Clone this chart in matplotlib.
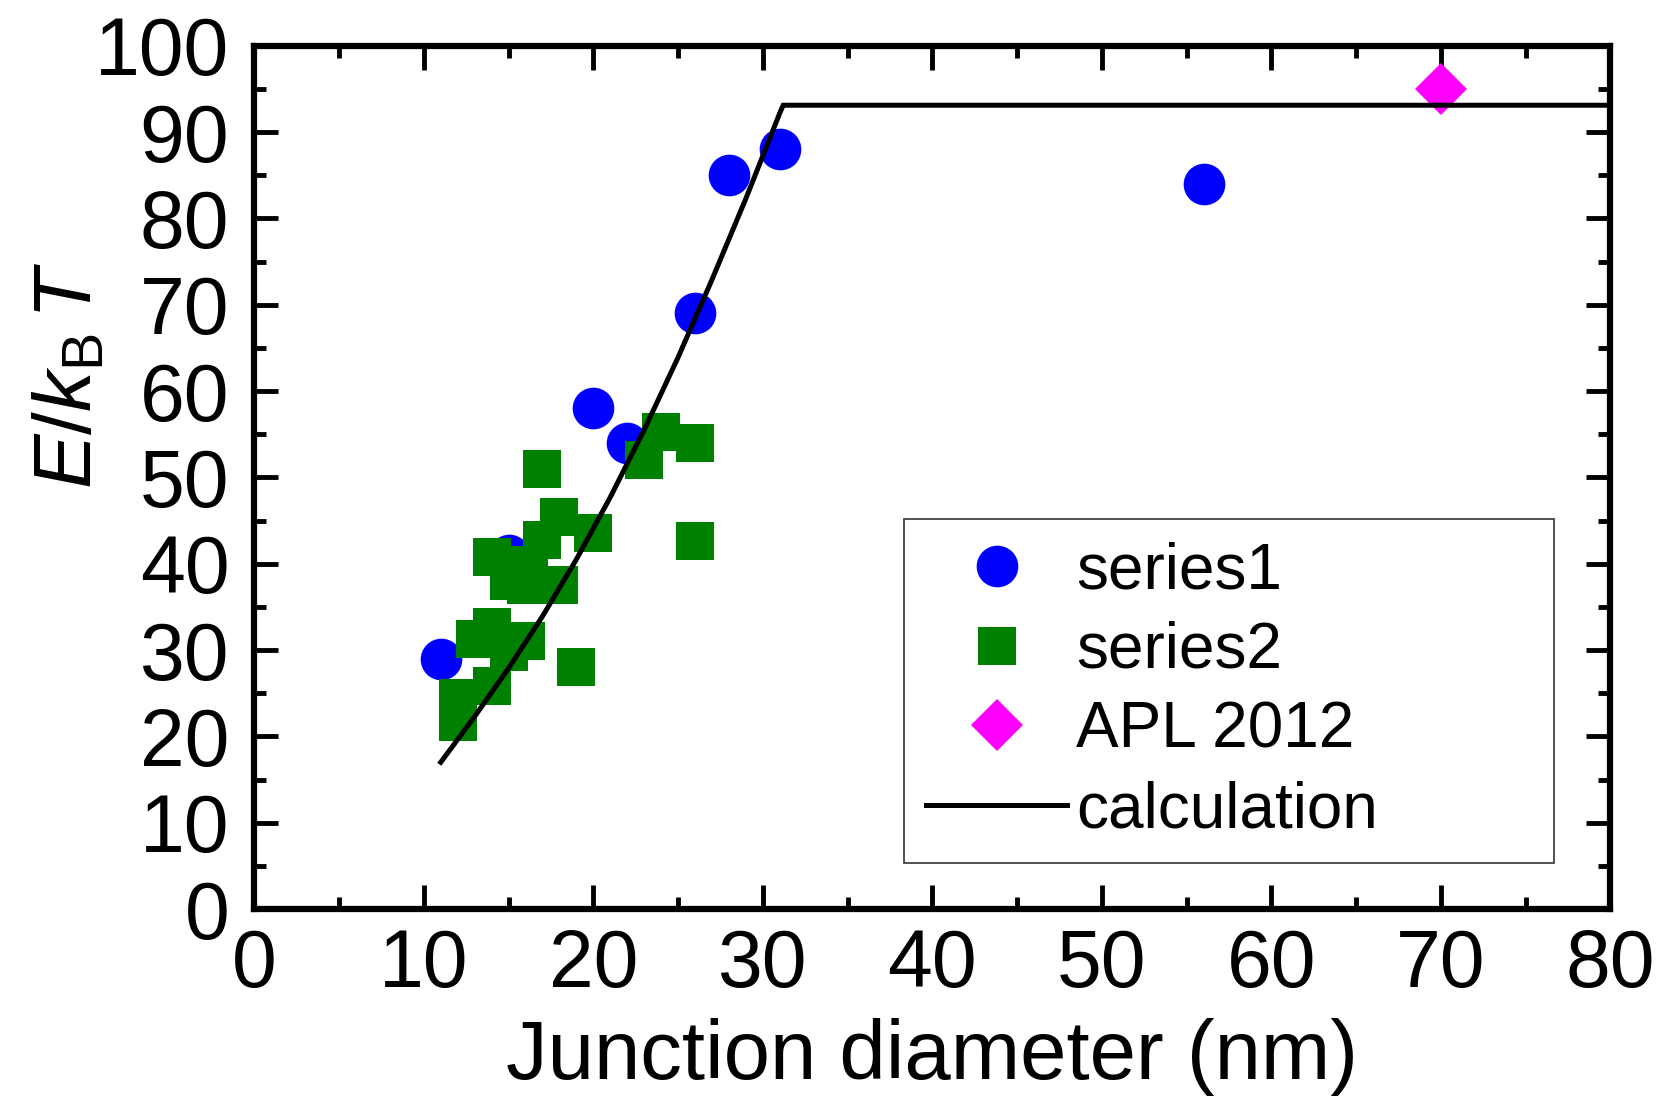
import matplotlib
matplotlib.use("Agg")
import matplotlib.pyplot as plt
from matplotlib.ticker import MultipleLocator

plt.rcParams['font.family'] = ['Liberation Sans', 'DejaVu Sans']
plt.rcParams['mathtext.fontset'] = 'custom'
plt.rcParams['mathtext.rm'] = 'Liberation Sans'
plt.rcParams['mathtext.it'] = 'Liberation Sans:italic'

# Data
s1_x = [11, 15, 20, 22, 26, 28, 31, 56]
s1_y = [29, 41, 58, 54, 69, 85, 88, 84]

s2_x = [17, 24, 26, 23, 26, 18, 20, 17, 14, 15, 16, 18, 16.2,
        14, 13, 16, 15, 19, 14, 12, 12]
s2_y = [51, 55.3, 54, 52, 42.6, 45.4, 43.5, 42.7, 40.8, 38, 37.5, 37.5, 39.8,
        32.7, 31.3, 31.1, 29.8, 28, 25.8, 24.4, 21.7]

apl_x = [70]
apl_y = [95]

calc_x = [11, 13, 15, 17, 19, 21, 23, 25, 27, 29, 31, 31.2, 80]
calc_y = [17, 22.3, 27.9, 33.9, 40.5, 47.7, 55.5, 63.9, 72.9, 82.3, 92.2, 93.1, 93.1]

fig = plt.figure(figsize=(16.62, 11.14), dpi=100)
ax = fig.add_axes([0.153, 0.184, 0.816, 0.775])

ax.plot(s1_x, s1_y, 'o', color='#0000FF', markersize=30, markeredgewidth=0,
        label='series1', zorder=2)
ax.plot(s2_x, s2_y, 's', color='#008000', markersize=27, markeredgewidth=0,
        label='series2', zorder=3)
ax.plot(apl_x, apl_y, 'D', color='#FF00FF', markersize=26, markeredgewidth=0,
        label='APL 2012', zorder=3)
ax.plot(calc_x, calc_y, '-', color='black', linewidth=3.6,
        solid_joinstyle='miter', label='calculation', zorder=4)

ax.set_xlim(0, 80)
ax.set_ylim(0, 100)
ax.xaxis.set_major_locator(MultipleLocator(10))
ax.xaxis.set_minor_locator(MultipleLocator(5))
ax.yaxis.set_major_locator(MultipleLocator(10))
ax.yaxis.set_minor_locator(MultipleLocator(5))

for sp in ax.spines.values():
    sp.set_linewidth(4.5)
ax.tick_params(which='both', direction='in', top=True, right=True,
               width=3.5, labelsize=58)
ax.tick_params(which='major', length=17)
ax.tick_params(which='minor', length=8.5)
ax.tick_params(axis='x', which='major', pad=14)
ax.tick_params(axis='y', which='major', pad=18)

ax.set_xlabel('Junction diameter (nm)', fontsize=60, labelpad=10)
ax.set_ylabel(r'$E/k_{\mathrm{B}}\,T$', fontsize=59)
ax.yaxis.set_label_coords(-0.108, 0.618)

leg = ax.legend(loc='upper left', bbox_to_anchor=(0.479, 0.051, 0.479, 0.401),
                mode='expand', fontsize=46, frameon=True, fancybox=False,
                edgecolor='black', handlelength=2.2, labelspacing=0.31,
                borderpad=0.35, borderaxespad=0, handletextpad=0.15,
                markerscale=1.0)
leg.get_frame().set_linewidth(1.2)

fig.savefig('out.png', dpi=100, facecolor='white')
